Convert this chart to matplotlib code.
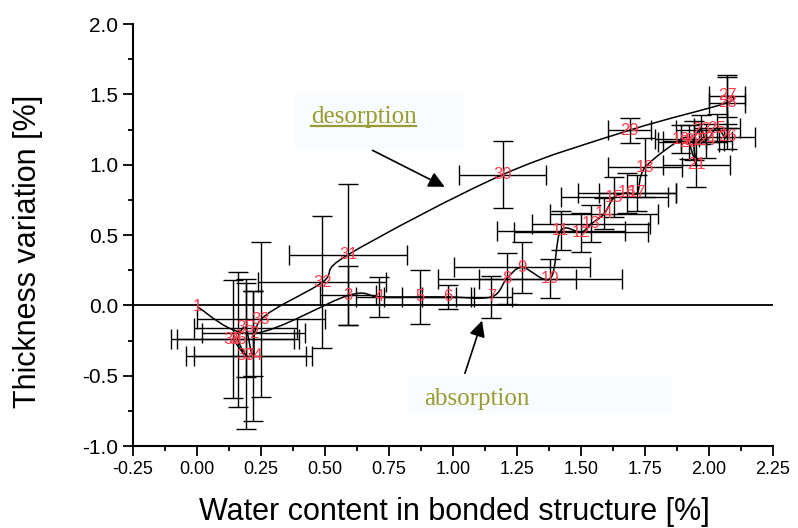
import numpy as np
import matplotlib.pyplot as plt
from matplotlib.path import Path
from matplotlib.patches import PathPatch, Rectangle
from matplotlib.ticker import MultipleLocator, FormatStrFormatter

plt.rcParams['font.family'] = ['Liberation Sans', 'DejaVu Sans']

# measurement number, water content [%], thickness variation [%] and their errors
point_no = np.arange(1, 39)
water = np.array([0.00, 0.22, 0.59, 0.71, 0.87, 0.98, 1.15, 1.21, 1.27, 1.38,
                  1.42, 1.50, 1.54, 1.59, 1.63, 1.68, 1.72, 1.75, 1.89, 1.92,
                  1.95, 1.94, 1.97, 1.99, 2.03, 2.07, 2.07, 2.07, 1.69, 1.195,
                  0.59, 0.49, 0.25, 0.22, 0.19, 0.16, 0.19, 0.14])
thick = np.array([-0.01, -0.20, 0.07, 0.06, 0.06, 0.06, 0.06, 0.19, 0.27, 0.19,
                  0.53, 0.52, 0.58, 0.65, 0.77, 0.80, 0.80, 0.98, 1.18, 1.16,
                  1.00, 1.17, 1.25, 1.17, 1.26, 1.20, 1.49, 1.44, 1.245, 0.93,
                  0.36, 0.165, -0.10, -0.36, -0.16, -0.24, -0.36, -0.24])
water_err = np.array([0.0, 0.20, 0.11, 0.09, 0.14, 0.10, 0.08, 0.27, 0.265, 0.28,
                      0.25, 0.26, 0.23, 0.21, 0.21, 0.19, 0.15, 0.145, 0.10, 0.12,
                      0.13, 0.12, 0.10, 0.10, 0.09, 0.11, 0.07, 0.07, 0.085, 0.17,
                      0.23, 0.25, 0.25, 0.23, 0.20, 0.24, 0.235, 0.24])
thick_err = np.array([0.0, 0.30, 0.21, 0.14, 0.19, 0.085, 0.15, 0.18, 0.18, 0.14,
                      0.14, 0.14, 0.13, 0.11, 0.14, 0.14, 0.13, 0.21, 0.10, 0.12,
                      0.16, 0.14, 0.10, 0.12, 0.10, 0.09, 0.15, 0.18, 0.09, 0.235,
                      0.50, 0.47, 0.55, 0.46, 0.35, 0.48, 0.52, 0.42])

absorption = np.arange(1, 28)   # points 1..27
desorption = np.arange(27, 39)  # points 27..38


def smooth_path(xs, ys):
    # Catmull-Rom curve through the points, as cubic Bezier segments
    p = np.column_stack([xs, ys])
    pe = np.vstack([p[0], p, p[-1]])
    verts = [p[0]]
    codes = [Path.MOVETO]
    for i in range(1, len(pe) - 2):
        p0, p1, p2, p3 = pe[i - 1], pe[i], pe[i + 1], pe[i + 2]
        verts += [p1 + (p2 - p0) / 6, p2 - (p3 - p1) / 6, p2]
        codes += [Path.CURVE4] * 3
    return Path(verts, codes)


fig = plt.figure(figsize=(7.98, 5.28), dpi=100)
ax = fig.add_axes([0.1667, 0.1553, 0.802, 0.7992])

ax.axhline(0, color='black', lw=1.3, zorder=1)

has_err = (water_err > 0) | (thick_err > 0)
ax.errorbar(water[has_err], thick[has_err], xerr=water_err[has_err], yerr=thick_err[has_err],
            fmt='none', ecolor='black', elinewidth=1.0, capsize=7, capthick=1.0, zorder=2)

for ids in (absorption, desorption):
    path = smooth_path(water[ids - 1], thick[ids - 1])
    ax.add_patch(PathPatch(path, fill=False, edgecolor='black', lw=1.1, zorder=3))

for n, x, y in zip(point_no, water, thick):
    ax.text(x, y, str(n), color='#ff3a4a', fontsize=12, ha='center', va='center', zorder=4)

# annotation boxes
ax.add_patch(Rectangle((0.383, 1.111), 0.66, 0.398, facecolor='#f8fcfe', edgecolor='none', zorder=0))
ax.text(0.445, 1.296, 'desorption', family=['Liberation Serif', 'DejaVu Serif'],
        fontsize=18, color='#9a9b30', ha='left', va='baseline', zorder=5)
ax.plot([0.445, 0.855], [1.275, 1.275], color='#9a9b30', lw=1.6, zorder=5)
ax.annotate('', xy=(0.977, 0.834), xytext=(0.676, 1.111),
            arrowprops=dict(arrowstyle='-|>', color='black', lw=1.2, mutation_scale=24), zorder=5)

box2 = Rectangle((0.824, -0.765), 1.031, 0.263, facecolor='#f8fcfe', edgecolor='none', zorder=0)
ax.add_patch(box2)
clip = Rectangle((0.824, -0.712), 1.031, 0.21, transform=ax.transData)
t = ax.text(0.887, -0.709, 'absorption', family=['Liberation Serif', 'DejaVu Serif'],
            fontsize=18, color='#9a9b30', ha='left', va='baseline', zorder=5)
t.set_clip_path(clip)
ax.annotate('', xy=(1.117, -0.09), xytext=(1.043, -0.502),
            arrowprops=dict(arrowstyle='-|>', color='black', lw=1.2, mutation_scale=24), zorder=5)

ax.set_xlim(-0.25, 2.25)
ax.set_ylim(-1.0, 2.0)
ax.xaxis.set_major_locator(MultipleLocator(0.25))
ax.xaxis.set_minor_locator(MultipleLocator(0.125))
ax.yaxis.set_major_locator(MultipleLocator(0.5))
ax.yaxis.set_minor_locator(MultipleLocator(0.25))
ax.xaxis.set_major_formatter(FormatStrFormatter('%.2f'))
ax.yaxis.set_major_formatter(FormatStrFormatter('%.1f'))
ax.tick_params(which='major', direction='out', length=7, width=1.3)
ax.tick_params(which='minor', direction='out', length=3.5, width=1.3)
ax.tick_params(axis='x', labelsize=13)
ax.tick_params(axis='y', labelsize=15)

for side in ('top', 'right'):
    ax.spines[side].set_visible(False)
for side in ('left', 'bottom'):
    ax.spines[side].set_linewidth(1.5)

ax.set_xlabel('Water content in bonded structure [%]', fontsize=22)
ax.set_ylabel('Thickness variation [%]', fontsize=22)
ax.xaxis.set_label_coords(0.502, -0.12)
ax.yaxis.set_label_coords(-0.14, 0.461)

fig.savefig('out.png', dpi=100)
